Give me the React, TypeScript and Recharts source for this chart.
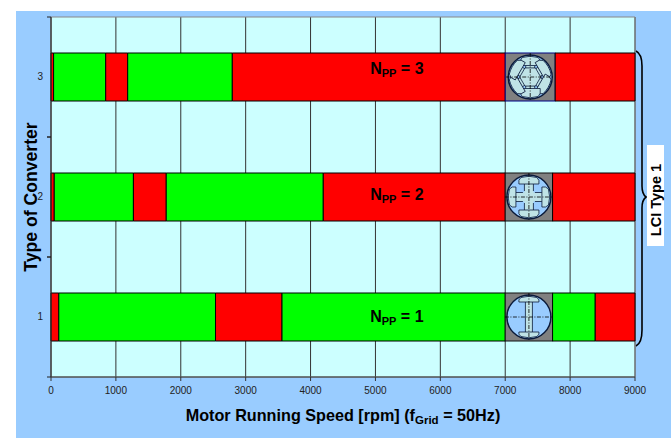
import { BarChart, Bar, XAxis, YAxis, CartesianGrid, ReferenceArea, ReferenceDot, Customized } from 'recharts';

const converterTypes = ['3', '2', '1'];
const redStart = [40, 50, 120];
const firstGreen = [803, 1220, 2415];
const midRed = [339, 506, 1025];
const secondGreen = [1612, 2420, 3440];
const redBeforePicture = [4206, 2804, 0];
const pictureSpan = [770, 730, 730];
const greenAfterPicture = [0, 0, 657];
const redAfterPicture = [1230, 1270, 613];
const speedTicks = [0, 1000, 2000, 3000, 4000, 5000, 6000, 7000, 8000, 9000];
const polePairs = [3, 2, 1];

const chartData = converterTypes.map((type, i) => ({
  type,
  s0: redStart[i],
  s1: firstGreen[i],
  s2: midRed[i],
  s3: secondGreen[i],
  s4: redBeforePicture[i],
  picture: pictureSpan[i],
  s5: greenAfterPicture[i],
  s6: redAfterPicture[i],
}));

const RED = '#FF0000';
const GREEN = '#00FF00';
const FONT = '"Liberation Sans", Arial, sans-serif';
const labelShift = [-4, 2, 4];

function ConverterTick({ x, y, payload }: any) {
  return (
    <g>
      <line x1={x + 4} x2={x + 8} y1={y - 60} y2={y - 60} stroke="#222" />
      <line x1={x + 4} x2={x + 8} y1={y + 60} y2={y + 60} stroke="#222" />
      <text x={x} y={y + 3} textAnchor="end" fontSize={10} fontFamily={FONT} fill="#222">
        {payload.value}
      </text>
    </g>
  );
}

// Cross-section of the salient pole rotor, redrawn by hand
function MotorPicture({ x, y, width, height, index }: any) {
  const pairs = polePairs[index];
  const cx = x + width / 2;
  const cy = y + height / 2;
  const poles = pairs * 2;
  const shaft = pairs === 1 ? 3.5 : 4.5;
  const cap = 10;
  const inner = pairs === 1 ? 15 : pairs === 2 ? 13 : 11.5;
  const angles = Array.from({ length: poles }, (_, i) => (i * 360) / poles);
  const hub = Array.from({ length: poles }, (_, i) => {
    const a = ((i + 0.5) * 2 * Math.PI) / poles;
    return `${cx + 10.5 * Math.sin(a)},${cy - 10.5 * Math.cos(a)}`;
  }).join(' ');
  return (
    <g>
      <rect x={x} y={y} width={width} height={height} fill="#808080" stroke={pairs === 3 ? '#000080' : '#111'} />
      <circle cx={cx} cy={cy} r={22} fill="#99CCFF" stroke="#0A1A3A" strokeWidth={1.4} />
      {angles.map(a => (
        <g key={a} transform={`rotate(${a} ${cx} ${cy})`}>
          <rect x={cx - shaft} y={cy - inner} width={shaft * 2} height={inner} fill="#BFE3E6" />
          <line x1={cx - shaft} x2={cx - shaft} y1={cy - inner} y2={cy - (pairs === 1 ? 0 : 6)} stroke="#0A1A3A" strokeWidth={0.8} />
          <line x1={cx + shaft} x2={cx + shaft} y1={cy - inner} y2={cy - (pairs === 1 ? 0 : 6)} stroke="#0A1A3A" strokeWidth={0.8} />
          <path
            d={`M${cx - cap} ${cy - inner} L${cx + cap} ${cy - inner} Q${cx + cap + 1} ${cy - 17} ${cx + cap - 2} ${cy - 19.5} Q${cx} ${cy - 22} ${cx - cap + 2} ${cy - 19.5} Q${cx - cap - 1} ${cy - 17} ${cx - cap} ${cy - inner}Z`}
            fill="#BFE3E6"
            stroke="#0A1A3A"
            strokeWidth={0.8}
          />
        </g>
      ))}
      {pairs === 3 && <polygon points={hub} fill="#BFE3E6" stroke="#0A1A3A" strokeWidth={0.8} />}
      <line x1={cx - 24} x2={cx + 24} y1={cy} y2={cy} stroke="#000" strokeWidth={0.8} strokeDasharray="4 1.5 1 1.5" />
      <line x1={cx} x2={cx} y1={y} y2={y + height} stroke="#000" strokeWidth={0.8} strokeDasharray="4 1.5 1 1.5" />
    </g>
  );
}

function PoleLabel({ cx, cy, pairs, shift }: any) {
  return (
    <text x={cx} y={cy + 1 + shift} textAnchor="middle" fontFamily={FONT} fontWeight="bold" fontSize={16} fill="#000">
      N<tspan fontSize={11} dy={3}>PP</tspan>
      <tspan dy={-3}> = {pairs}</tspan>
    </text>
  );
}

function Annotations() {
  return (
    <g fontFamily={FONT} fontWeight="bold" fill="#000">
      <text x={343} y={421} textAnchor="middle" fontSize={16.2}>
        Motor Running Speed [rpm] (f<tspan fontSize={11.5} dy={3}>Grid</tspan>
        <tspan dy={-3}> = 50Hz)</tspan>
      </text>
      <text transform="translate(37 197) rotate(-90)" textAnchor="middle" fontSize={17.6}>
        Type of Converter
      </text>
      <path
        d="M636 51 Q642 54 642 66 L642 186 Q642 194 646 197 Q642 200 642 208 L642 330 Q642 343 636 346"
        fill="none"
        stroke="#000"
        strokeWidth={1.6}
      />
      <rect x={647} y={145} width={17} height={101} fill="#fff" />
      <text transform="translate(661 200) rotate(-90)" textAnchor="middle" fontSize={14.5}>
        LCI Type 1
      </text>
    </g>
  );
}

export default function App() {
  return (
    <div style={{ position: 'absolute', left: 0, top: 0, width: 671, height: 438, background: '#fff' }}>
      <div style={{ position: 'absolute', left: 16, top: 11, width: 655, height: 427, background: '#99CCFF' }} />
      <div style={{ position: 'absolute', left: 0, top: 0 }}>
        <BarChart
          width={671}
          height={438}
          layout="vertical"
          data={chartData}
          margin={{ top: 17, right: 36, bottom: 0, left: 0 }}
        >
          <CartesianGrid horizontal={false} fill="#CCFFFF" stroke="#333" verticalValues={speedTicks} />
          <XAxis
            type="number"
            domain={[0, 9000]}
            ticks={speedTicks}
            height={61}
            interval={0}
            tick={{ fontSize: 10, fontFamily: FONT, fill: '#222' }}
            tickSize={4}
            tickMargin={6}
            stroke="#333"
          />
          <YAxis type="category" dataKey="type" width={51} tickLine={false} tick={<ConverterTick />} stroke="#333" />
          <ReferenceArea x1={0} x2={9000} y1="3" y2="1" fill="none" stroke="#888" />
          <Bar dataKey="s0" stackId="speed" barSize={48} fill={RED} stroke="#000" isAnimationActive={false} />
          <Bar dataKey="s1" stackId="speed" barSize={48} fill={GREEN} stroke="#000" isAnimationActive={false} />
          <Bar dataKey="s2" stackId="speed" barSize={48} fill={RED} stroke="#000" isAnimationActive={false} />
          <Bar dataKey="s3" stackId="speed" barSize={48} fill={GREEN} stroke="#000" isAnimationActive={false} />
          <Bar dataKey="s4" stackId="speed" barSize={48} fill={RED} stroke="#000" isAnimationActive={false} />
          <Bar dataKey="picture" stackId="speed" barSize={48} shape={<MotorPicture />} isAnimationActive={false} />
          <Bar dataKey="s5" stackId="speed" barSize={48} fill={GREEN} stroke="#000" isAnimationActive={false} />
          <Bar dataKey="s6" stackId="speed" barSize={48} fill={RED} stroke="#000" isAnimationActive={false} />
          {converterTypes.map((type, i) => (
            <ReferenceDot
              key={type}
              x={5330}
              y={type}
              r={0}
              shape={(props: any) => <PoleLabel {...props} pairs={polePairs[i]} shift={labelShift[i]} />}
            />
          ))}
          <Customized component={Annotations} />
        </BarChart>
      </div>
    </div>
  );
}
